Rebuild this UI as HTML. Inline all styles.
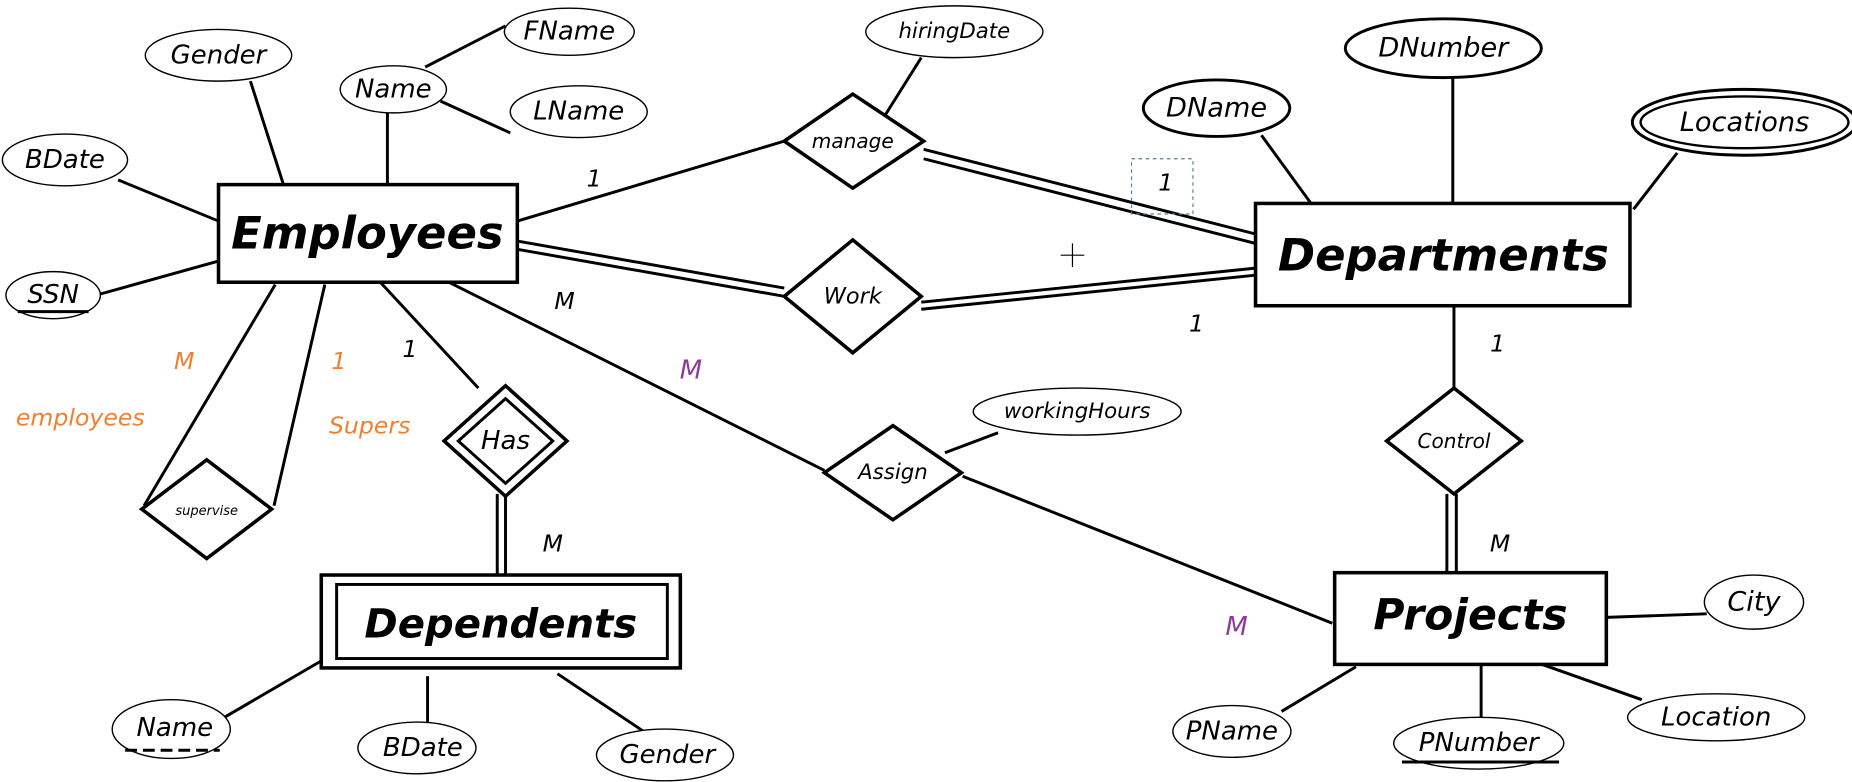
<!DOCTYPE html>
<html><head><meta charset="utf-8"><style>
html,body{margin:0;padding:0;background:#fff;width:1852px;height:782px;overflow:hidden}
svg{display:block}
text{font-family:"DejaVu Sans","Liberation Sans",sans-serif;font-style:italic;fill:#000;text-anchor:middle;dominant-baseline:central}
.b{font-weight:bold}
</style></head><body>
<svg width="1852" height="782" viewBox="0 0 1568 665" preserveAspectRatio="none" xmlns="http://www.w3.org/2000/svg">
<g stroke="#000" stroke-width="2.5" fill="none">
<line x1="212" y1="69" x2="240" y2="157"/>
<line x1="328" y1="96" x2="328" y2="157"/>
<line x1="360" y1="57" x2="428" y2="22"/>
<line x1="373" y1="86" x2="432" y2="113"/>
<line x1="100" y1="153" x2="185" y2="188"/>
<line x1="85" y1="250" x2="185" y2="222"/>
<line x1="438" y1="188" x2="664" y2="120"/>
<line x1="782" y1="127" x2="1063" y2="199"/>
<line x1="782" y1="135" x2="1063" y2="207"/>
<line x1="780" y1="49" x2="750" y2="97"/>
<line x1="438" y1="205" x2="664" y2="245"/>
<line x1="438" y1="212" x2="664" y2="252"/>
<line x1="780" y1="257" x2="1063" y2="228"/>
<line x1="780" y1="263" x2="1063" y2="234"/>
<line x1="1068" y1="115" x2="1110" y2="173"/>
<line x1="1230" y1="66" x2="1230" y2="173"/>
<line x1="1383" y1="178" x2="1420" y2="130"/>
<line x1="1231" y1="260" x2="1231" y2="330"/>
<line x1="1225" y1="420" x2="1225" y2="487"/>
<line x1="1233" y1="420" x2="1233" y2="487"/>
<line x1="380" y1="240" x2="698" y2="400"/>
<line x1="815" y1="405" x2="1128" y2="530"/>
<line x1="845" y1="368" x2="800" y2="385"/>
<line x1="322" y1="240" x2="405" y2="330"/>
<line x1="421" y1="420" x2="421" y2="489"/>
<line x1="428" y1="420" x2="428" y2="489"/>
<line x1="233" y1="242" x2="122" y2="430"/>
<line x1="275" y1="242" x2="232" y2="430"/>
<line x1="190" y1="610" x2="272" y2="562"/>
<line x1="362" y1="575" x2="362" y2="614"/>
<line x1="472" y1="573" x2="545" y2="622"/>
<line x1="1360" y1="525" x2="1445" y2="522"/>
<line x1="1085" y1="605" x2="1148" y2="567"/>
<line x1="1254" y1="565" x2="1254" y2="610"/>
<line x1="1300" y1="563" x2="1390" y2="595"/>
</g>
<g stroke="#000" stroke-width="3" fill="#fff">
<rect x="185" y="157" width="253" height="83"/>
<rect x="1063" y="173" width="317" height="87"/>
<rect x="1130" y="487" width="230" height="78"/>
<rect x="272" y="489" width="304" height="79"/>
<rect x="285" y="497" width="280" height="63" stroke-width="2.5"/>
<polygon points="664,120 722,80 782,120 722,160"/>
<polygon points="664,252 722,204 780,252 722,300"/>
<polygon points="376,375 428,328 480,375 428,422"/>
<polygon points="388,375 428,339 468,375 428,411" stroke-width="2.5"/>
<polygon points="120,433 175,391 230,433 175,475"/>
<polygon points="698,402 756,362 814,402 756,442"/>
<polygon points="1174,375 1231,330 1288,375 1231,420"/>
</g>
<g stroke="#000" stroke-width="1.2" fill="#fff">
<ellipse cx="185" cy="47" rx="62" ry="22"/>
<ellipse cx="482" cy="27" rx="55" ry="20"/>
<ellipse cx="333" cy="76" rx="45" ry="20"/>
<ellipse cx="490" cy="95" rx="58" ry="22"/>
<ellipse cx="55" cy="136" rx="53" ry="22"/>
<ellipse cx="45" cy="251" rx="40" ry="20"/>
<ellipse cx="808" cy="27" rx="75" ry="22"/>
<ellipse cx="1222" cy="41" rx="83" ry="25" stroke-width="2.5"/>
<ellipse cx="1030" cy="92" rx="62" ry="24" stroke-width="2.5"/>
<ellipse cx="1477" cy="104" rx="95" ry="28" stroke-width="2.5"/>
<ellipse cx="1477" cy="104" rx="88" ry="22" stroke-width="2"/>
<ellipse cx="912" cy="350" rx="88" ry="20"/>
<ellipse cx="1485" cy="512" rx="42" ry="23"/>
<ellipse cx="1043" cy="622" rx="50" ry="22"/>
<ellipse cx="1252" cy="632" rx="72" ry="22"/>
<ellipse cx="1453" cy="610" rx="75" ry="20"/>
<ellipse cx="145" cy="620" rx="50" ry="25"/>
<ellipse cx="353" cy="636" rx="50" ry="22"/>
<ellipse cx="563" cy="642" rx="58" ry="22"/>
</g>
<g stroke="#000" stroke-width="2.5">
<line x1="15" y1="265" x2="75" y2="265"/>
<line x1="1187" y1="648" x2="1320" y2="648"/>
<line x1="106" y1="638" x2="186" y2="638" stroke-dasharray="10,5"/>
</g>
<rect x="958" y="135" width="52" height="47" fill="none" stroke="#5a7fa0" stroke-width="1" stroke-dasharray="3,3"/>
<g stroke="#000" stroke-width="1"><line x1="898" y1="217" x2="918" y2="217"/><line x1="908" y1="207" x2="908" y2="227"/></g>
<text class="b" x="311" y="198" font-size="38">Employees</text>
<text class="b" x="1222" y="217" font-size="38">Departments</text>
<text class="b" x="1245" y="524" font-size="36">Projects</text>
<text class="b" x="424" y="531" font-size="34">Dependents</text>
<text x="722" y="120" font-size="17">manage</text>
<text x="722" y="252" font-size="19">Work</text>
<text x="428" y="375" font-size="22">Has</text>
<text x="175" y="435" font-size="11">supervise</text>
<text x="756" y="402" font-size="18">Assign</text>
<text x="1231" y="375" font-size="17">Control</text>
<text x="185" y="47" font-size="22">Gender</text>
<text x="482" y="27" font-size="22">FName</text>
<text x="333" y="76" font-size="22">Name</text>
<text x="490" y="95" font-size="22">LName</text>
<text x="55" y="136" font-size="22">BDate</text>
<text x="45" y="251" font-size="22">SSN</text>
<text x="808" y="27" font-size="18">hiringDate</text>
<text x="1222" y="41" font-size="23">DNumber</text>
<text x="1030" y="92" font-size="23">DName</text>
<text x="1477" y="104" font-size="23">Locations</text>
<text x="912" y="350" font-size="18">workingHours</text>
<text x="1485" y="512" font-size="23">City</text>
<text x="1043" y="622" font-size="22">PName</text>
<text x="1252" y="632" font-size="22">PNumber</text>
<text x="1453" y="610" font-size="22">Location</text>
<text x="148" y="619" font-size="22">Name</text>
<text x="358" y="636" font-size="22">BDate</text>
<text x="565" y="642" font-size="22">Gender</text>
<text x="503" y="152" font-size="20">1</text>
<text x="987" y="155" font-size="20">1</text>
<text x="478" y="256" font-size="20">M</text>
<text x="1013" y="275" font-size="20">1</text>
<text x="1268" y="292" font-size="20">1</text>
<text x="1270" y="462" font-size="20">M</text>
<text x="347" y="297" font-size="20">1</text>
<text x="468" y="462" font-size="20">M</text>
<text x="585" y="315" font-size="22" style="fill:#8e3a9e">M</text>
<text x="1047" y="533" font-size="22" style="fill:#8e3a9e">M</text>
<text x="156" y="307" font-size="20" style="fill:#f08030">M</text>
<text x="287" y="307" font-size="20" style="fill:#f08030">1</text>
<text x="68" y="355" font-size="20" style="fill:#f08030">employees</text>
<text x="313" y="362" font-size="20" style="fill:#f08030">Supers</text>
</svg>
</body></html>
